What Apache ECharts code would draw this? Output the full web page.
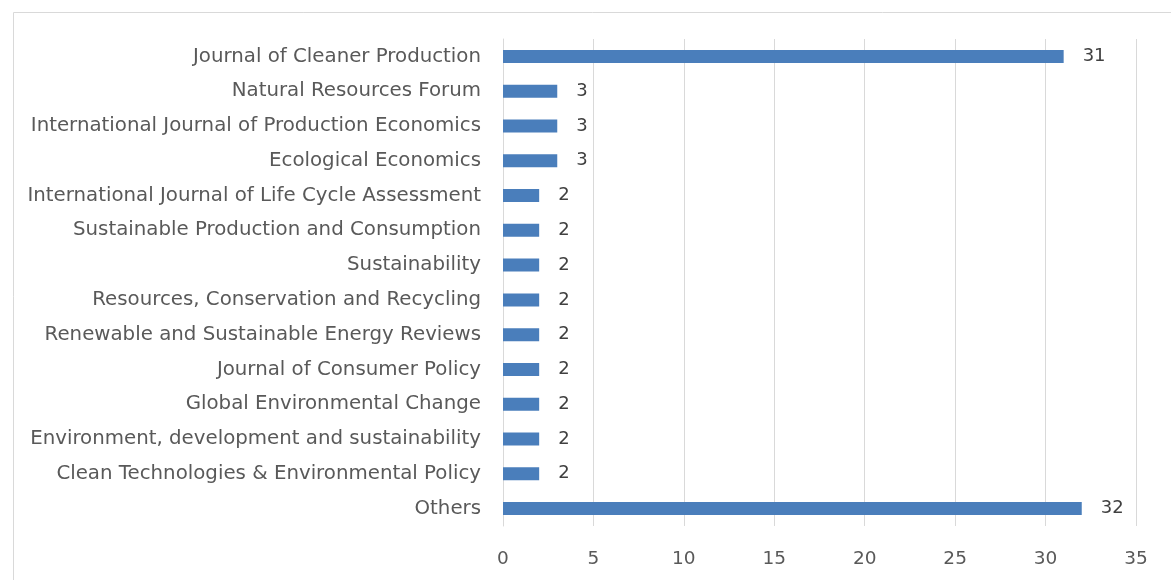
<!DOCTYPE html>
<html><head><meta charset="utf-8">
<script src="https://cdn.jsdelivr.net/npm/echarts@6/dist/echarts.min.js"></script>
<style>html,body{margin:0;padding:0;background:#fff}#c{width:1171px;height:580px}</style>
</head><body><div id="c"></div>
<script>
const categories = [
  "Journal of Cleaner Production",
  "Natural Resources Forum",
  "International Journal of Production Economics",
  "Ecological Economics",
  "International Journal of Life Cycle Assessment",
  "Sustainable Production and Consumption",
  "Sustainability",
  "Resources, Conservation and Recycling",
  "Renewable and Sustainable Energy Reviews",
  "Journal of Consumer Policy",
  "Global Environmental Change",
  "Environment, development and sustainability",
  "Clean Technologies & Environmental Policy",
  "Others"
];
const counts = [31, 3, 3, 3, 2, 2, 2, 2, 2, 2, 2, 2, 2, 32];
const xTicks = [0, 5, 10, 15, 20, 25, 30, 35];

const chart = echarts.init(document.getElementById('c'));
chart.setOption({
  animation: false,
  graphic: [{
    type: 'rect', left: 11, top: 10,
    shape: { width: 1200, height: 600 },
    style: { fill: 'none', stroke: '#d9d9d9', lineWidth: 1 }
  }],
  grid: { left: 503, right: 35, top: 39, bottom: 54, containLabel: false },
  xAxis: {
    type: 'value', min: xTicks[0], max: xTicks[xTicks.length - 1], interval: 5,
    axisLine: { show: false }, axisTick: { show: false },
    splitLine: { lineStyle: { color: '#d9d9d9', width: 1 } },
    axisLabel: { color: '#595959', fontSize: 18.5, fontFamily: 'DejaVu Sans', margin: 24 }
  },
  yAxis: {
    type: 'category', data: categories, inverse: true,
    axisLine: { show: true, lineStyle: { color: '#d9d9d9' } },
    axisTick: { show: false },
    axisLabel: { color: '#595959', fontSize: 19.8, fontFamily: 'DejaVu Sans', margin: 22 }
  },
  series: [{
    type: 'bar', data: counts, barWidth: 13,
    itemStyle: { color: '#4a7ebb' },
    label: { show: true, position: 'right', distance: 19, color: '#404040', fontSize: 18, fontFamily: 'DejaVu Sans' }
  }]
});
</script></body></html>
